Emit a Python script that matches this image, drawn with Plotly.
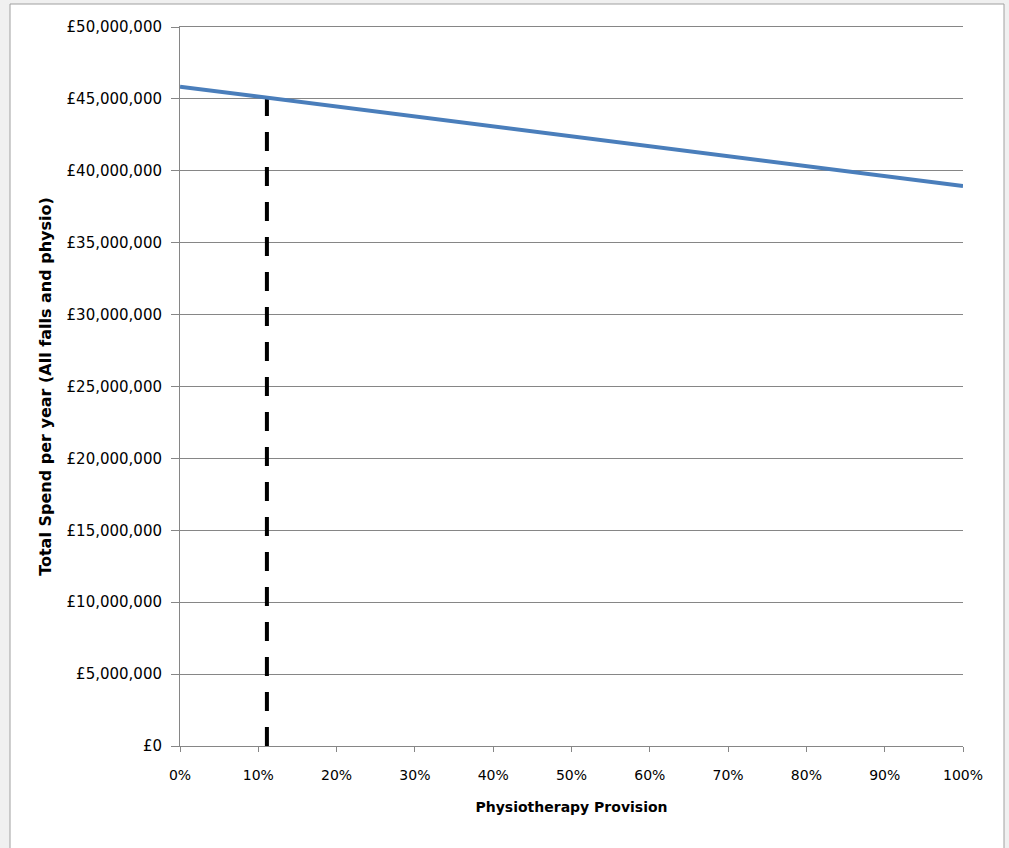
import plotly.graph_objects as go

provision = [0.0, 0.1, 0.2, 0.3, 0.4, 0.5, 0.6, 0.7, 0.8, 0.9, 1.0]
total_spend = [45.85e6, 45.16e6, 44.47e6, 43.78e6, 43.09e6, 42.40e6,
               41.71e6, 41.02e6, 40.33e6, 39.64e6, 38.95e6]
current_provision = [0.111, 0.111]
current_spend = [0, 45.05e6]

y_ticks = [i * 5e6 for i in range(11)]
y_labels = ["£0", "£5,000,000", "£10,000,000", "£15,000,000", "£20,000,000",
            "£25,000,000", "£30,000,000", "£35,000,000", "£40,000,000",
            "£45,000,000", "£50,000,000"]
x_ticks = [i / 10 for i in range(11)]
x_labels = [f"{i*10}%" for i in range(11)]

W, H = 1009, 848
L, R, T, B = 180, 46, 27, 102
pw, ph = W - L - R, H - T - B

fig = go.Figure()
fig.add_trace(go.Scatter(x=current_provision, y=current_spend, mode="lines",
                         line=dict(color="black", width=4, dash="19px,16px"),
                         hoverinfo="skip", showlegend=False))
fig.add_trace(go.Scatter(x=provision, y=total_spend, mode="lines",
                         line=dict(color="#4A7EBB", width=4),
                         showlegend=False))

font = "DejaVu Sans, Verdana, sans-serif"
fig.update_layout(
    width=W, height=H,
    margin=dict(l=L, r=R, t=T, b=B, pad=0),
    paper_bgcolor="#F0F0F0",
    plot_bgcolor="white",
    font=dict(family=font, size=14, color="black"),
    shapes=[dict(type="rect", xref="paper", yref="paper", layer="below",
                 x0=(10 - L) / pw, x1=(1004 - L) / pw,
                 y0=(H - B - 860) / ph, y1=(H - B - 4) / ph,
                 fillcolor="white", line=dict(color="#A0A0A0", width=1))],
    xaxis=dict(range=[0, 1], tickvals=x_ticks, ticktext=x_labels,
               showgrid=False, zeroline=False, showline=True, mirror=True,
               linecolor="#868686", linewidth=1,
               ticks="outside", ticklen=5, tickcolor="#868686",
               ticklabelstandoff=11,
               tickfont=dict(size=14),
               title=dict(text="<b>Physiotherapy Provision</b>",
                          font=dict(size=14), standoff=20)),
    yaxis=dict(range=[0, 50e6], tickvals=y_ticks, ticktext=y_labels,
               showgrid=True, gridcolor="#868686", gridwidth=1,
               zeroline=False, showline=True, linecolor="#868686", linewidth=1,
               ticks="outside", ticklen=8, tickcolor="#868686",
               ticklabelstandoff=6,
               tickfont=dict(size=15),
               title=dict(text="<b>Total Spend per year (All falls and physio)</b>",
                          font=dict(size=16), standoff=10)),
)
fig.write_html("out.html")
